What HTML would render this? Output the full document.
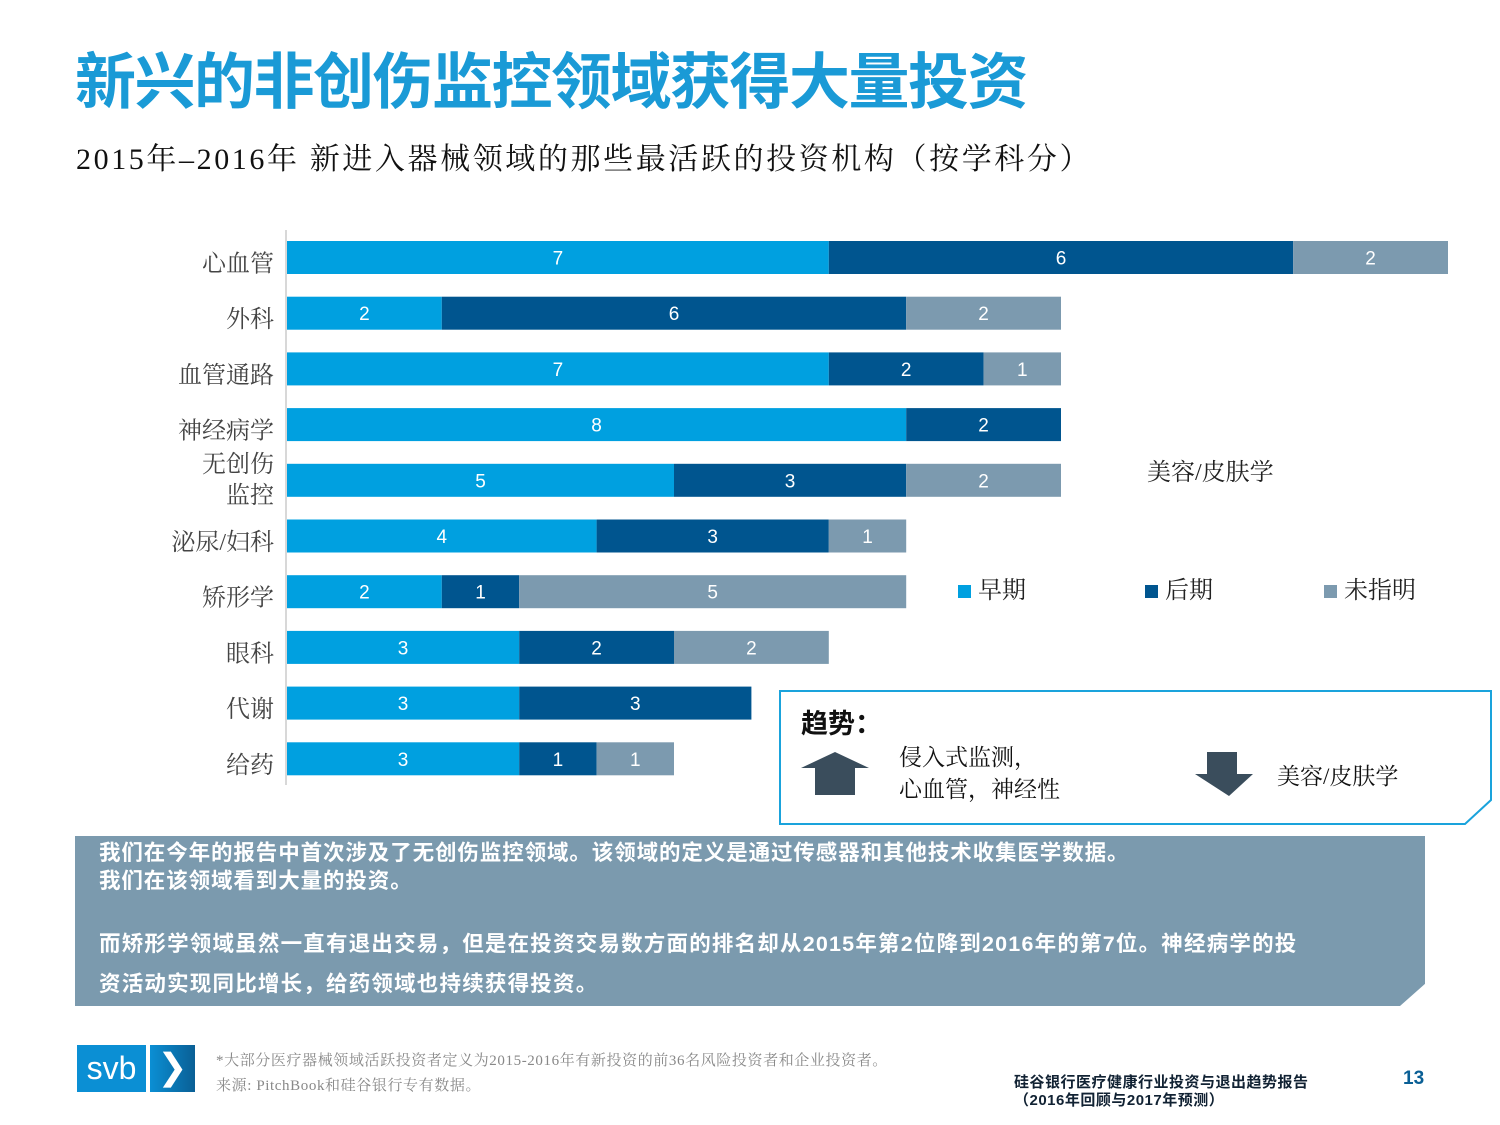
<!DOCTYPE html>
<html><head><meta charset="utf-8"><style>
body{margin:0;width:1500px;height:1125px;background:#fff;position:relative;overflow:hidden;font-family:"Liberation Sans","Noto Sans CJK SC",sans-serif}
.a{position:absolute;white-space:nowrap}
.serif{font-family:"Liberation Serif","Noto Serif CJK SC",serif}
</style></head><body>
<div class="a" style="left:75px;top:32px;font-size:61px;color:#1a9ad6;font-weight:bold;letter-spacing:-1.5px">新兴的非创伤监控领域获得大量投资</div>
<div class="a serif" style="left:76px;top:134px;font-size:30px;color:#111;letter-spacing:2.6px">2015年–2016年 新进入器械领域的那些最活跃的投资机构（按学科分）</div>
<svg id="chart" width="1500" height="830" style="position:absolute;left:0;top:0"></svg>
<div class="a" style="left:779px;top:690px;width:712px;height:134px">
<svg width="714" height="136" style="position:absolute;left:0;top:0"><polygon points="1,1 712,1 712,110 686,134 1,134" fill="#fff" stroke="#1aa3dc" stroke-width="2"/>
<polygon points="22,78 56,62 90,78 76,78 76,105 36,105 36,78" fill="#3a4d5c"/>
<polygon points="428,62 458,62 458,84 474,84 450,106 416,84 420,84 428,84" fill="#3a4d5c"/></svg>
<div class="a" style="left:22px;top:12px;font-size:27px;font-weight:bold;color:#111">趋势：</div>
<div class="a serif" style="left:120px;top:52px;font-size:23px;line-height:32px;color:#111">侵入式监测，<br>心血管，神经性</div>
<div class="a serif" style="left:498px;top:68px;font-size:23px;color:#111">美容/皮肤学</div>
</div>
<div class="a" style="left:75px;top:836px;width:1350px;height:170px;background:#7b9aae;clip-path:polygon(0 0,100% 0,100% 87%,1325px 100%,0 100%)">
<div class="a" style="left:24px;top:3px;font-size:21.5px;line-height:28px;color:#fff;font-weight:bold;letter-spacing:0.9px">我们在今年的报告中首次涉及了无创伤监控领域。该领域的定义是通过传感器和其他技术收集医学数据。<br>我们在该领域看到大量的投资。</div>
<div class="a" style="left:24px;top:88px;font-size:21.5px;line-height:40px;color:#fff;font-weight:bold;letter-spacing:1.2px">而矫形学领域虽然一直有退出交易，但是在投资交易数方面的排名却从2015年第2位降到2016年的第7位。神经病学的投<br>资活动实现同比增长，给药领域也持续获得投资。</div>
</div>
<div class="a" style="left:77px;top:1045px;width:69px;height:47px;background:#0b8fd4;color:#fff;font-size:32px;text-align:center;line-height:47px">svb</div>
<div class="a" style="left:150px;top:1045px;width:45px;height:47px;background:linear-gradient(90deg,#0b8fd4,#0a5f95);color:#fff;font-size:36px;text-align:center;line-height:44px">❯</div>
<div class="a serif" style="left:216px;top:1049px;font-size:15px;line-height:25px;color:#888;letter-spacing:0.6px">*大部分医疗器械领域活跃投资者定义为2015-2016年有新投资的前36名风险投资者和企业投资者。<br>来源: PitchBook和硅谷银行专有数据。</div>
<div class="a" style="left:1014px;top:1074px;font-size:15px;line-height:18px;color:#123;font-weight:bold;letter-spacing:0.5px">硅谷银行医疗健康行业投资与退出趋势报告<br>（2016年回顾与2017年预测）</div>
<div class="a" style="left:1403px;top:1068px;font-size:19px;color:#0a5f95;font-weight:bold">13</div>
<script>
const categories=["心血管","外科","血管通路","神经病学","无创伤监控","泌尿/妇科","矫形学","眼科","代谢","给药"];
const earlyVals=[7,2,7,8,5,4,2,3,3,3];
const lateVals=[6,6,2,2,3,3,1,2,3,1];
const unspecVals=[2,2,1,0,2,1,5,2,0,1];
const seriesNames=["早期","后期","未指明"];
const colors=["#00a0e0","#00558f","#7c9aaf"];
const ns="http://www.w3.org/2000/svg";
const svg=document.getElementById('chart');
const x0=287,unit=77.4,rowTop=241,rowStep=55.7,barH=33;
const serifFont='"Liberation Serif","Noto Serif CJK SC",serif';
const xs=v=>x0+v*unit;
const ys=i=>rowTop+i*rowStep;
function mk(t,a){const e=document.createElementNS(ns,t);for(const k in a)e.setAttribute(k,a[k]);svg.appendChild(e);return e;}
const ax=mk('line',{x1:286,y1:230,x2:286,y2:785,stroke:'#ccc','stroke-width':1.5});


const series=[earlyVals,lateVals,unspecVals];
categories.forEach((c,i)=>{
  let acc=0;
  series.forEach((s,k)=>{
    const v=s[i];if(!v)return;
    const r=mk('rect',{x:xs(acc),y:ys(i),width:v*unit,height:barH,fill:colors[k]});
    
    
    const t=mk('text',{x:xs(acc+v/2),y:ys(i)+barH/2+7,'text-anchor':'middle',fill:'#fff','font-size':19});
    t.textContent=v;
    
    
    acc+=v;
  });
  if(c==="无创伤监控"){
    ["无创伤","监控"].forEach((p,j)=>{const l=mk('text',{x:274,y:ys(i)+8+j*31,'text-anchor':'end',fill:'#444','font-size':24,'font-family':serifFont});l.textContent=p;
    
    });
  } else {
    const l=mk('text',{x:274,y:ys(i)+barH/2+14,'text-anchor':'end',fill:'#444','font-size':24,'font-family':serifFont});
    l.textContent=c;
    
    
  }
});
const note=mk('text',{x:1147,y:480,fill:'#222','font-size':24,'font-family':serifFont});
note.textContent="美容/皮肤学";


const lx=[958,1145,1324];
seriesNames.forEach((n,k)=>{
  const r=mk('rect',{x:lx[k],y:585,width:13,height:13,fill:colors[k]});
  
  
  const t=mk('text',{x:lx[k]+20,y:598,fill:'#222','font-size':24,'font-family':serifFont});
  t.textContent=n;
  
  
});
</script>
</body></html>
